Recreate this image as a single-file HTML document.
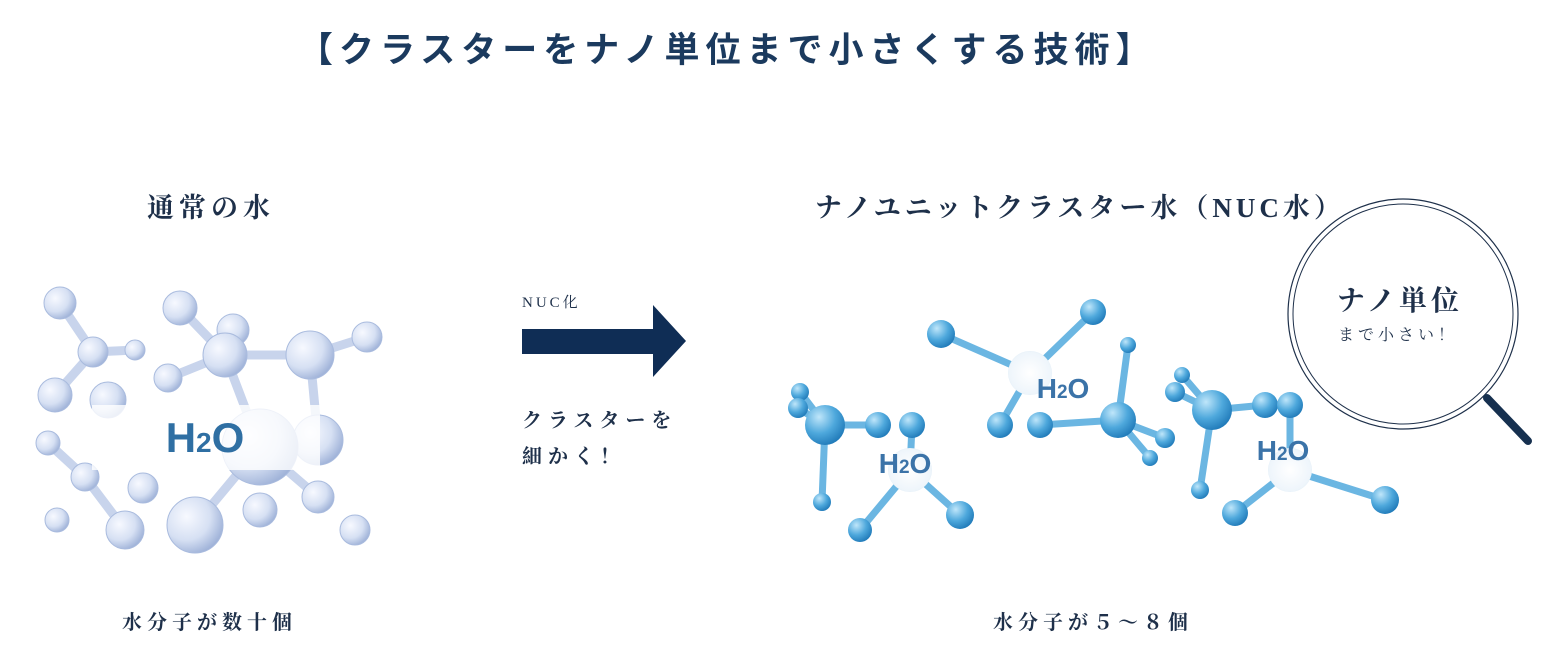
<!DOCTYPE html>
<html><head><meta charset="utf-8"><style>
body{margin:0;width:1560px;height:651px;background:#fff;overflow:hidden;position:relative;font-family:"Liberation Serif","Noto Serif CJK SC",serif;color:#1e304a}
.t{position:absolute;white-space:nowrap}
</style></head><body>
<svg width="1560" height="651" style="position:absolute;left:0;top:0">
<defs>
<radialGradient id="g1" cx="0.35" cy="0.35" r="0.7"><stop offset="0" stop-color="#f7f9ff"/><stop offset="0.6" stop-color="#d6e0f3"/><stop offset="1" stop-color="#9fb2d8"/></radialGradient>
<radialGradient id="g2" cx="0.35" cy="0.3" r="0.75"><stop offset="0" stop-color="#bfe6fa"/><stop offset="0.55" stop-color="#4ea8dc"/><stop offset="1" stop-color="#1f79b8"/></radialGradient>
<radialGradient id="g3" cx="0.5" cy="0.5" r="0.6"><stop offset="0" stop-color="#fff"/><stop offset="0.8" stop-color="#eef5fb"/><stop offset="1" stop-color="#b9d5ea"/></radialGradient>
</defs>
<g stroke="#c8d4ec" stroke-width="9" stroke-linecap="round">
<line x1="60" y1="303" x2="93" y2="352"/><line x1="93" y1="352" x2="135" y2="350"/><line x1="93" y1="352" x2="55" y2="395"/>
<line x1="180" y1="308" x2="225" y2="355"/><line x1="225" y1="355" x2="310" y2="355"/><line x1="310" y1="355" x2="367" y2="337"/>
<line x1="225" y1="355" x2="168" y2="378"/><line x1="225" y1="355" x2="260" y2="447"/><line x1="310" y1="355" x2="318" y2="440"/>
<line x1="48" y1="443" x2="85" y2="477"/><line x1="85" y1="477" x2="125" y2="530"/><line x1="260" y1="447" x2="195" y2="525"/><line x1="260" y1="447" x2="318" y2="497"/>
</g>
<g fill="url(#g1)" stroke="#a9bbde" stroke-width="1">
<circle cx="60" cy="303" r="16"/><circle cx="93" cy="352" r="15"/><circle cx="135" cy="350" r="10"/><circle cx="180" cy="308" r="17"/><circle cx="233" cy="330" r="16"/><circle cx="225" cy="355" r="22"/><circle cx="310" cy="355" r="24"/><circle cx="367" cy="337" r="15"/><circle cx="168" cy="378" r="14"/><circle cx="55" cy="395" r="17"/><circle cx="108" cy="400" r="18"/><circle cx="48" cy="443" r="12"/><circle cx="85" cy="477" r="14"/><circle cx="318" cy="440" r="25"/><circle cx="260" cy="447" r="38"/><circle cx="143" cy="488" r="15"/><circle cx="125" cy="530" r="19"/><circle cx="195" cy="525" r="28"/><circle cx="260" cy="510" r="17"/><circle cx="318" cy="497" r="16"/><circle cx="355" cy="530" r="15"/><circle cx="57" cy="520" r="12"/>
</g>
<rect x="92" y="405" width="228" height="65" fill="#fff" opacity="0.8"/>
<text x="205" y="452" text-anchor="middle" font-family="Liberation Sans,sans-serif" font-weight="bold" font-size="42" fill="#2f6fa3">H<tspan font-size="28">2</tspan>O</text>

<g stroke="#6bb6e2" stroke-width="7" stroke-linecap="round">
<line x1="800" y1="392" x2="825" y2="425"/><line x1="798" y1="408" x2="825" y2="425"/><line x1="825" y1="425" x2="878" y2="425"/><line x1="825" y1="425" x2="822" y2="502"/><line x1="910" y1="470" x2="860" y2="530"/><line x1="910" y1="470" x2="960" y2="515"/><line x1="910" y1="470" x2="912" y2="425"/>
<line x1="941" y1="334" x2="1030" y2="373"/><line x1="1030" y1="373" x2="1093" y2="312"/><line x1="1040" y1="425" x2="1118" y2="420"/><line x1="1118" y1="420" x2="1128" y2="345"/><line x1="1118" y1="420" x2="1165" y2="438"/><line x1="1118" y1="420" x2="1150" y2="458"/><line x1="1030" y1="373" x2="1000" y2="425"/>
<line x1="1182" y1="375" x2="1212" y2="410"/><line x1="1175" y1="392" x2="1212" y2="410"/><line x1="1212" y1="410" x2="1265" y2="405"/><line x1="1212" y1="410" x2="1200" y2="490"/><line x1="1290" y1="470" x2="1235" y2="513"/><line x1="1290" y1="470" x2="1385" y2="500"/><line x1="1290" y1="470" x2="1290" y2="405"/>
</g>
<g fill="url(#g2)">
<circle cx="800" cy="392" r="9"/><circle cx="798" cy="408" r="10"/><circle cx="825" cy="425" r="20"/><circle cx="878" cy="425" r="13"/><circle cx="912" cy="425" r="13"/><circle cx="822" cy="502" r="9"/><circle cx="860" cy="530" r="12"/><circle cx="960" cy="515" r="14"/>
<circle cx="941" cy="334" r="14"/><circle cx="1093" cy="312" r="13"/><circle cx="1128" cy="345" r="8"/><circle cx="1000" cy="425" r="13"/><circle cx="1040" cy="425" r="13"/><circle cx="1118" cy="420" r="18"/><circle cx="1165" cy="438" r="10"/><circle cx="1150" cy="458" r="8"/>
<circle cx="1182" cy="375" r="8"/><circle cx="1175" cy="392" r="10"/><circle cx="1212" cy="410" r="20"/><circle cx="1265" cy="405" r="13"/><circle cx="1290" cy="405" r="13"/><circle cx="1200" cy="490" r="9"/><circle cx="1235" cy="513" r="13"/><circle cx="1385" cy="500" r="14"/>
</g>
<g fill="url(#g3)"><circle cx="910" cy="470" r="22"/><circle cx="1030" cy="373" r="22"/><circle cx="1290" cy="470" r="22"/></g>
<g font-family="Liberation Sans,sans-serif" font-weight="bold" font-size="28" fill="#3b73a8" text-anchor="middle">
<text x="905" y="473">H<tspan font-size="19">2</tspan>O</text><text x="1063" y="398">H<tspan font-size="19">2</tspan>O</text><text x="1283" y="460">H<tspan font-size="19">2</tspan>O</text>
</g>
<polygon points="522,329 653,329 653,305 686,341 653,377 653,354 522,354" fill="#0f2d55"/>
</svg>
<div class="t" style="left:298px;top:22px;font-family:'Liberation Sans','Noto Sans CJK JP',sans-serif;font-weight:bold;font-size:35px;letter-spacing:6px;color:#1b3a5e">【クラスターをナノ単位まで小さくする技術】</div>
<div class="t" style="left:147px;top:186px;font-weight:bold;font-size:27px;letter-spacing:5px">通常の水</div>
<div class="t" style="left:815px;top:186px;font-weight:bold;font-size:27px;letter-spacing:4px">ナノユニットクラスター水（NUC水）</div>
<svg width="1560" height="651" style="position:absolute;left:0;top:0">
<circle cx="1403" cy="314" r="115" fill="#fff" stroke="#1e304a" stroke-width="1.2"/>
<circle cx="1403" cy="314" r="110" fill="none" stroke="#1e304a" stroke-width="1"/>
<line x1="1487" y1="398" x2="1528" y2="441" stroke="#16304f" stroke-width="8" stroke-linecap="round"/>
</svg>
<div class="t" style="left:522px;top:291px;font-size:15px;letter-spacing:3px">NUC化</div>
<div class="t" style="left:522px;top:403px;font-size:20px;letter-spacing:6px;line-height:36px;font-weight:bold">クラスターを<br>細かく！</div>
<div class="t" style="left:1337px;top:279px;font-size:28px;letter-spacing:4px;font-weight:bold">ナノ単位</div>
<div class="t" style="left:1338px;top:322px;font-size:16px;letter-spacing:4px">まで小さい！</div>
<div class="t" style="left:122px;top:606px;font-size:20px;letter-spacing:5px;font-weight:bold">水分子が数十個</div>
<div class="t" style="left:993px;top:606px;font-size:20px;letter-spacing:5px;font-weight:bold">水分子が５～８個</div>
</body></html>
